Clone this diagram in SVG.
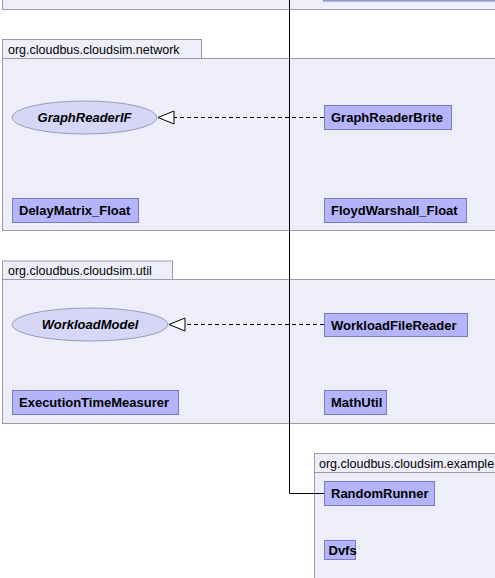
<svg xmlns="http://www.w3.org/2000/svg" width="495" height="578" viewBox="0 0 495 578">
<style>
.pkg{fill:#eeeefa;stroke:#9a9aae;stroke-width:1}
.pl{font-family:"Liberation Sans",Arial,sans-serif;font-size:12.5px;fill:#000}
.cls{fill:#b4b4fa;stroke:#7c7cbc;stroke-width:1}
.ifc{fill:#d6d6f6;stroke:#9a9ab4;stroke-width:1}
.t{font-family:"Liberation Sans",Arial,sans-serif;font-size:13px;font-weight:bold;fill:#000}
.ti{font-family:"Liberation Sans",Arial,sans-serif;font-size:13px;font-weight:bold;font-style:italic;fill:#000;text-anchor:middle}
.dash{fill:none;stroke:#000;stroke-width:1;stroke-dasharray:4,3}
.ln{fill:none;stroke:#000;stroke-width:1}
.head{fill:#fff;stroke:#000;stroke-width:1}
</style>
<g id="pkg-top">
<rect class="pkg" x="2.5" y="-10" width="500" height="19.5"/>
</g>
<g id="top-node">
<rect class="cls" x="323.5" y="-20" width="180" height="21"/>
</g>
<g id="pkg-network">
<rect class="pkg" x="2.5" y="39.5" width="199" height="19"/>
<text class="pl" x="8" y="53.5">org.cloudbus.cloudsim.network</text>
<rect class="pkg" x="2.5" y="58.5" width="500" height="172"/>
</g>
<g id="pkg-util">
<rect class="pkg" x="2.5" y="261" width="170" height="18.5"/>
<text class="pl" x="8" y="275">org.cloudbus.cloudsim.util</text>
<rect class="pkg" x="2.5" y="279.5" width="500" height="144"/>
</g>
<g id="pkg-examples">
<rect class="pkg" x="314.5" y="453.5" width="190" height="19"/>
<text class="pl" x="319" y="467.5" font-size="12.3">org.cloudbus.cloudsim.example</text>
<rect class="pkg" x="314.5" y="472.5" width="190" height="120"/>
</g>
<g id="GraphReaderIF">
<ellipse class="ifc" cx="84.5" cy="117.5" rx="72.5" ry="16.5"/>
<text class="ti" x="84.5" y="122">GraphReaderIF</text>
</g>
<g id="GraphReaderBrite">
<rect class="cls" x="324.5" y="105.5" width="127" height="24"/>
<text class="t" x="331" y="122">GraphReaderBrite</text>
</g>
<g id="DelayMatrix_Float">
<rect class="cls" x="12.5" y="198.5" width="126" height="24"/>
<text class="t" x="19" y="215">DelayMatrix_Float</text>
</g>
<g id="FloydWarshall_Float">
<rect class="cls" x="324.5" y="198.5" width="142" height="24"/>
<text class="t" x="331" y="215">FloydWarshall_Float</text>
</g>
<g id="WorkloadModel">
<ellipse class="ifc" cx="90" cy="324.5" rx="78" ry="16.5"/>
<text class="ti" x="90" y="329">WorkloadModel</text>
</g>
<g id="WorkloadFileReader">
<rect class="cls" x="324.5" y="313.5" width="143" height="23"/>
<text class="t" x="331" y="329.5">WorkloadFileReader</text>
</g>
<g id="ExecutionTimeMeasurer">
<rect class="cls" x="12.5" y="390.5" width="166" height="24"/>
<text class="t" x="19" y="407">ExecutionTimeMeasurer</text>
</g>
<g id="MathUtil">
<rect class="cls" x="324.5" y="390.5" width="62" height="24"/>
<text class="t" x="331" y="407">MathUtil</text>
</g>
<g id="RandomRunner">
<rect class="cls" x="324.5" y="481.5" width="110" height="24"/>
<text class="t" x="331" y="498">RandomRunner</text>
</g>
<g id="Dvfs">
<rect class="cls" x="324.5" y="540.5" width="31" height="19"/>
<text class="t" x="328.5" y="555" font-size="13.5">Dvfs</text>
</g>
<g id="connectors">
<path class="dash" d="M324,117.5 L174,117.5"/>
<path class="head" d="M158,117.5 L174,111 L174,124 Z"/>
<path class="dash" d="M324,324.5 L185,324.5"/>
<path class="head" d="M169,324.5 L185,318 L185,331 Z"/>
<path class="ln" d="M289.5,0 L289.5,493.5 L324,493.5"/>
</g>
</svg>
